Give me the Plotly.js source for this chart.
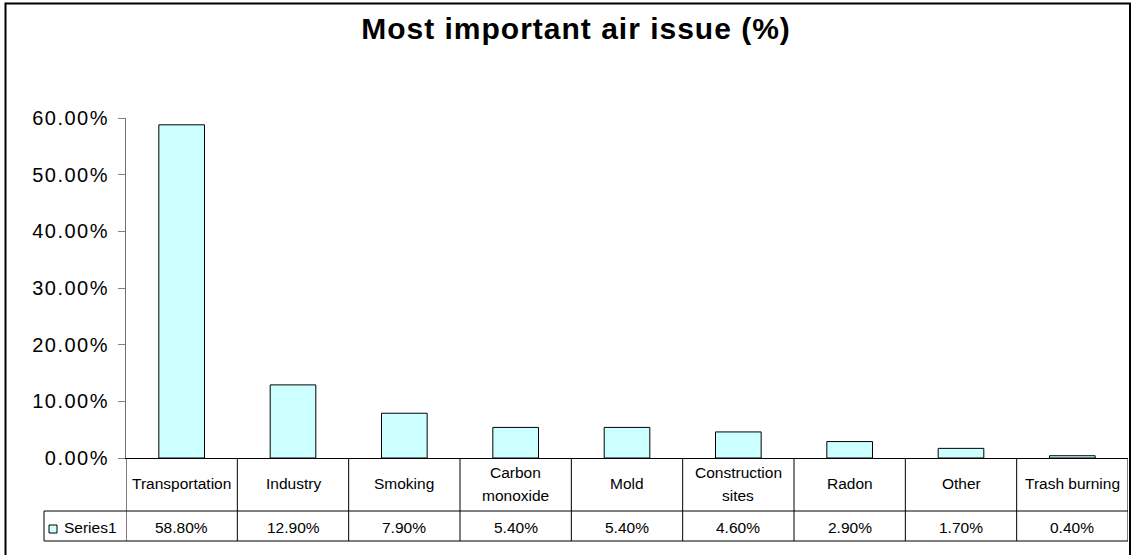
<!DOCTYPE html>
<html>
<head>
<meta charset="utf-8">
<script src="https://cdn.plot.ly/plotly-3.0.1.min.js"></script>
<style>
html,body{margin:0;padding:0;background:#fff;}
#chart{width:1131px;height:555px;}
#chart .gtitle{letter-spacing:1px;}
#chart .ytick text{letter-spacing:1.5px;}
</style>
</head>
<body>
<div id="chart"></div>
<script>
var categories = ["Transportation", "Industry", "Smoking", "Carbon monoxide", "Mold", "Construction sites", "Radon", "Other", "Trash burning"];
var categoryLabelLines = [["Transportation"], ["Industry"], ["Smoking"], ["Carbon", "monoxide"], ["Mold"], ["Construction", "sites"], ["Radon"], ["Other"], ["Trash burning"]];
var seriesName = "Series1";
var values = [0.588, 0.129, 0.079, 0.054, 0.054, 0.046, 0.029, 0.017, 0.004];
var valueLabels = ["58.80%", "12.90%", "7.90%", "5.40%", "5.40%", "4.60%", "2.90%", "1.70%", "0.40%"];
var chartTitle = "Most important air issue (%)";

var W = 1131, H = 555;
var ML = 126, MR = 3, MT = 118, MB = 97;
var PW = W - ML - MR, PH = H - MT - MB;
function px(x) { return (x - ML) / PW; }
function py(y) { return (H - MB - y) / PH; }

var FONT = "Arial, 'Liberation Sans', sans-serif";
var yTop = 458, yMid = 511, yBot = 541, xLeftCell = 44;
var TFS = 15.5;

var shapes = [];
var annotations = [];
var n = categories.length;
for (var i = 0; i <= n; i++) {
  shapes.push({type: "line", xref: "x", yref: "paper", x0: i - 0.5, x1: i - 0.5,
    y0: py(yTop), y1: py(yBot), line: {color: "#000", width: 1}});
}
shapes.push({type: "line", xref: "paper", yref: "paper", x0: px(xLeftCell), x1: 1, y0: py(yMid), y1: py(yMid), line: {color: "#000", width: 1}});
shapes.push({type: "line", xref: "paper", yref: "paper", x0: px(xLeftCell), x1: 1, y0: py(yBot), y1: py(yBot), line: {color: "#000", width: 1}});
shapes.push({type: "line", xref: "paper", yref: "paper", x0: px(xLeftCell), x1: px(xLeftCell), y0: py(yMid), y1: py(yBot), line: {color: "#000", width: 1}});
shapes.push({type: "rect", xref: "paper", yref: "paper", x0: px(49), x1: px(57), y0: py(533), y1: py(525),
  fillcolor: "#CCFFFF", line: {color: "#000", width: 1}});
shapes.push({type: "rect", xref: "paper", yref: "paper", x0: px(5.5), x1: px(1130), y0: py(3.5), y1: py(560),
  fillcolor: "rgba(0,0,0,0)", line: {color: "#000", width: 2}});

var rowCenter = (yTop + yMid) / 2 - 1;
var lineGap = 23;
for (var j = 0; j < n; j++) {
  var lines = categoryLabelLines[j];
  for (var k = 0; k < lines.length; k++) {
    var yc = rowCenter + (k - (lines.length - 1) / 2) * lineGap;
    annotations.push({xref: "x", yref: "paper", x: j, y: py(yc), text: lines[k],
      showarrow: false, xanchor: "center", yanchor: "middle", font: {family: FONT, size: TFS, color: "#000"}});
  }
  annotations.push({xref: "x", yref: "paper", x: j, y: py(527), text: valueLabels[j],
    showarrow: false, xanchor: "center", yanchor: "middle", font: {family: FONT, size: TFS, color: "#000"}});
}
annotations.push({xref: "paper", yref: "paper", x: px(62), y: py(527), text: seriesName,
  showarrow: false, xanchor: "left", yanchor: "middle", font: {family: FONT, size: TFS, color: "#000"}});

var trace = {
  type: "bar",
  x: categories.map(function (c, k) { return k; }),
  y: values,
  name: seriesName,
  width: 0.41,
  marker: {color: "#CCFFFF", line: {color: "#000", width: 1}},
  hoverinfo: "skip"
};

var layout = {
  width: W, height: H,
  margin: {l: ML, r: MR, t: MT, b: MB, pad: 0},
  paper_bgcolor: "#fff", plot_bgcolor: "#fff",
  showlegend: false,
  title: {text: "<b>" + chartTitle + "</b>", font: {family: FONT, size: 30, color: "#000"},
    xref: "container", yref: "container", x: 576 / W, xanchor: "center", y: 1 - 28 / H, yanchor: "middle"},
  xaxis: {range: [-0.5, n - 0.5], showticklabels: false, ticks: "", showgrid: false, zeroline: false,
    showline: true, linecolor: "#000", linewidth: 1, fixedrange: true},
  yaxis: {range: [0, 0.6], dtick: 0.1, tick0: 0, tickformat: ".2%", showgrid: false, zeroline: false,
    showline: true, linecolor: "#707070", linewidth: 1, ticks: "outside", ticklen: 7, tickcolor: "#808080",
    ticklabelstandoff: 5,
    tickfont: {family: FONT, size: 20, color: "#000"}, fixedrange: true},
  shapes: shapes,
  annotations: annotations
};

Plotly.newPlot("chart", [trace], layout, {displayModeBar: false, staticPlot: true});
</script>
</body>
</html>
